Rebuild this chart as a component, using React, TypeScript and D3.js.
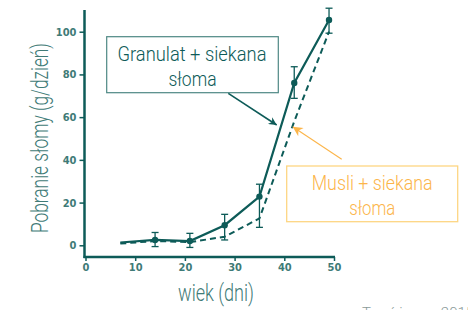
import React, { useEffect, useRef } from 'react';
import * as d3 from 'd3';

// wiek (dni)
const days = [7, 14, 21, 28, 35, 42, 49];
// Granulat + siekana słoma (solid line, markers, error bars)
const granulat = [1.3, 2.5, 2, 9.4, 22.8, 76, 105.5];
const granulatErrTop = [null, 6, 5.6, 14.5, 28.6, 83.6, 111];
const granulatErrBottom = [null, -0.6, -1, 2.5, 8.4, 68.8, 99.3];
// Musli + siekana słoma (dashed line)
const musli = [0.8, 2, 1.5, 4, 12.6, 58, 100];

const xTicks = [0, 10, 20, 30, 40, 50];
const yTicks = [0, 20, 40, 60, 80, 100];

const TEAL = '#0d5b58';
const TEAL_TEXT = '#3f7b77';
const ORANGE = '#fcb54a';
const FONT = '"Liberation Sans Narrow", "DejaVu Sans Condensed", sans-serif';
const LIGHT = 'Roboto, "Liberation Sans Narrow", sans-serif';

const App: React.FC = () => {
  const svgRef = useRef<SVGSVGElement>(null);

  useEffect(() => {
    if (!svgRef.current) return;
    const svg = d3.select(svgRef.current);
    svg.selectAll('*').remove();

    const x = d3.scaleLinear().domain([0, 50]).range([85.5, 334]);
    const y = d3.scaleLinear().domain([0, 100]).range([245.3, 31.7]);

    const defs = svg.append('defs');
    defs.append('marker').attr('id', 'arrTeal').attr('viewBox', '0 0 10 10')
      .attr('refX', 10).attr('refY', 5).attr('markerWidth', 7).attr('markerHeight', 5)
      .attr('markerUnits', 'strokeWidth').attr('orient', 'auto')
      .append('path').attr('d', 'M0,0 L10,5 L0,10 L3,5 Z').attr('fill', TEAL);
    defs.append('marker').attr('id', 'arrOrange').attr('viewBox', '0 0 10 10')
      .attr('refX', 10).attr('refY', 5).attr('markerWidth', 12).attr('markerHeight', 9)
      .attr('markerUnits', 'strokeWidth').attr('orient', 'auto')
      .append('path').attr('d', 'M0,0 L10,5 L0,10 L3,5 Z').attr('fill', ORANGE);

    // y axis
    const yAxis = svg.append('g').attr('transform', 'translate(84.5,0)')
      .call(d3.axisLeft(y).tickValues(yTicks).tickSize(5).tickPadding(3));
    yAxis.select('.domain').remove();
    yAxis.selectAll('line').attr('stroke', TEAL).attr('stroke-width', 1.5);
    yAxis.selectAll('text').attr('fill', TEAL_TEXT).attr('font-family', FONT)
      .attr('font-size', 11).attr('font-weight', 'bold');
    svg.append('line').attr('x1', 84.5).attr('x2', 84.5).attr('y1', 10).attr('y2', 258)
      .attr('stroke', TEAL).attr('stroke-width', 2.5);

    // x axis
    const xAxis = svg.append('g').attr('transform', 'translate(0,257)')
      .call(d3.axisBottom(x).tickValues(xTicks).tickSize(4).tickPadding(2));
    xAxis.select('.domain').remove();
    xAxis.selectAll('line').attr('stroke', TEAL).attr('stroke-width', 1.5);
    xAxis.selectAll('text').attr('fill', TEAL_TEXT).attr('font-family', FONT)
      .attr('font-size', 11).attr('font-weight', 'bold');
    svg.append('line').attr('x1', 83.5).attr('x2', 335).attr('y1', 257).attr('y2', 257)
      .attr('stroke', TEAL).attr('stroke-width', 2.5);

    // axis titles
    svg.append('text').attr('transform', 'translate(48,138) rotate(-90)')
      .attr('text-anchor', 'middle').attr('fill', TEAL_TEXT).attr('font-family', LIGHT)
      .attr('font-weight', 300).attr('font-size', 23)
      .attr('textLength', 190).attr('lengthAdjust', 'spacingAndGlyphs')
      .text('Pobranie słomy (g/dzień)');
    svg.append('text').attr('x', 216).attr('y', 301)
      .attr('text-anchor', 'middle').attr('fill', TEAL_TEXT).attr('font-family', LIGHT)
      .attr('font-weight', 300).attr('font-size', 23)
      .attr('textLength', 76).attr('lengthAdjust', 'spacingAndGlyphs')
      .text('wiek (dni)');

    // lines
    const line = d3.line<number>().x((_, i) => x(days[i])).y(d => y(d));
    svg.append('path').attr('d', line(musli)).attr('fill', 'none')
      .attr('stroke', TEAL).attr('stroke-width', 2).attr('stroke-dasharray', '6,4');
    svg.append('path').attr('d', line(granulat)).attr('fill', 'none')
      .attr('stroke', TEAL).attr('stroke-width', 2.2);

    // error bars
    const eb = svg.append('g').attr('stroke', TEAL).attr('stroke-width', 1.3);
    days.forEach((d, i) => {
      const t = granulatErrTop[i];
      const b = granulatErrBottom[i];
      if (t === null || b === null) return;
      eb.append('line').attr('x1', x(d)).attr('x2', x(d)).attr('y1', y(t)).attr('y2', y(b));
      eb.append('line').attr('x1', x(d) - 3.5).attr('x2', x(d) + 3.5).attr('y1', y(t)).attr('y2', y(t));
      eb.append('line').attr('x1', x(d) - 3.5).attr('x2', x(d) + 3.5).attr('y1', y(b)).attr('y2', y(b));
    });
    svg.append('g').selectAll('circle').data(granulat.slice(1)).enter().append('circle')
      .attr('cx', (_, i) => x(days[i + 1])).attr('cy', d => y(d)).attr('r', 3.2).attr('fill', TEAL);

    // annotation: Granulat
    svg.append('rect').attr('x', 106.7).attr('y', 36.7).attr('width', 171.6).attr('height', 56)
      .attr('fill', 'white').attr('stroke', '#4e8884').attr('stroke-width', 1.2);
    svg.append('text').attr('x', 192).attr('y', 60.5).attr('text-anchor', 'middle')
      .attr('fill', TEAL).attr('font-family', LIGHT).attr('font-weight', 300).attr('font-size', 21)
      .attr('textLength', 149).attr('lengthAdjust', 'spacingAndGlyphs').text('Granulat + siekana');
    svg.append('text').attr('x', 192.5).attr('y', 85.5).attr('text-anchor', 'middle')
      .attr('fill', TEAL).attr('font-family', LIGHT).attr('font-weight', 300).attr('font-size', 21)
      .attr('textLength', 48).attr('lengthAdjust', 'spacingAndGlyphs').text('słoma');
    svg.append('line').attr('x1', 228.3).attr('y1', 93.3).attr('x2', 276.7).attr('y2', 125)
      .attr('stroke', TEAL).attr('stroke-width', 1.6).attr('marker-end', 'url(#arrTeal)');

    // annotation: Musli
    svg.append('rect').attr('x', 286.7).attr('y', 166).attr('width', 171).attr('height', 55.7)
      .attr('fill', 'white').attr('stroke', '#fdd683').attr('stroke-width', 1.3);
    svg.append('text').attr('x', 372.2).attr('y', 190).attr('text-anchor', 'middle')
      .attr('fill', ORANGE).attr('font-family', LIGHT).attr('font-weight', 300).attr('font-size', 21)
      .attr('textLength', 121).attr('lengthAdjust', 'spacingAndGlyphs').text('Musli + siekana');
    svg.append('text').attr('x', 372.2).attr('y', 215).attr('text-anchor', 'middle')
      .attr('fill', ORANGE).attr('font-family', LIGHT).attr('font-weight', 300).attr('font-size', 21)
      .attr('textLength', 46).attr('lengthAdjust', 'spacingAndGlyphs').text('słoma');
    svg.append('line').attr('x1', 341.7).attr('y1', 159.3).attr('x2', 292.7).attr('y2', 126.7)
      .attr('stroke', ORANGE).attr('stroke-width', 1.1).attr('marker-end', 'url(#arrOrange)');

    // source
    svg.append('text').attr('x', 362).attr('y', 318).attr('fill', '#8a9a98')
      .attr('font-family', LIGHT).attr('font-weight', 300).attr('font-size', 15).text('Terré i wsp. 2015');
  }, []);

  return (
    <div style={{ position: 'absolute', left: 0, top: 0 }}>
      <svg ref={svgRef} width={468} height={310} style={{ display: 'block', background: 'white' }} />
    </div>
  );
};

export default App;
